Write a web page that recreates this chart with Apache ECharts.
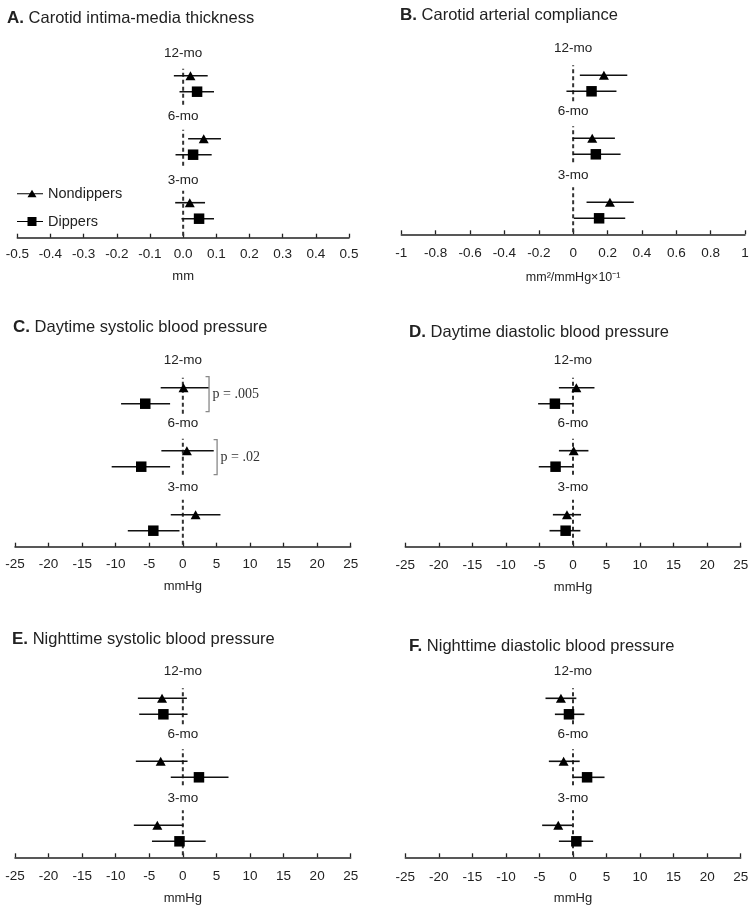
<!DOCTYPE html>
<html><head><meta charset="utf-8">
<script src="https://cdn.jsdelivr.net/npm/echarts@6/dist/echarts.min.js"></script>
<style>html,body{margin:0;padding:0;background:#fff}#c{width:755px;height:911px}</style>
</head><body><div id="c"></div>
<script>
// ---------- DATA ----------
const timepoints = ['3-mo', '6-mo', '12-mo'];
// each row: [mean, lower CI, upper CI] for 3-mo, 6-mo, 12-mo
const imtNondippers      = [[0.020, -0.024, 0.066], [0.062, 0.015, 0.114], [0.022, -0.028, 0.074]];
const imtDippers         = [[0.048, -0.005, 0.093], [0.030, -0.023, 0.086], [0.042, -0.011, 0.093]];
const compNondippers     = [[0.214, 0.078, 0.353], [0.111, -0.004, 0.243], [0.179, 0.039, 0.315]];
const compDippers        = [[0.151, 0.004, 0.303], [0.132, 0.000, 0.276], [0.107, -0.039, 0.252]];
const daySbpNondippers   = [[1.9, -1.8, 5.6], [0.6, -3.2, 4.6], [0.1, -3.3, 3.9]];
const daySbpDippers      = [[-4.4, -8.2, -0.5], [-6.2, -10.6, -1.9], [-5.6, -9.2, -1.9]];
const dayDbpNondippers   = [[-0.9, -3.0, 1.2], [0.1, -2.1, 2.3], [0.5, -2.1, 3.2]];
const dayDbpDippers      = [[-1.1, -3.5, 1.1], [-2.6, -5.1, -0.1], [-2.7, -5.2, 0.0]];
const nightSbpNondippers = [[-3.8, -7.3, 0.1], [-3.3, -7.0, 0.7], [-3.1, -6.7, 0.6]];
const nightSbpDippers    = [[-0.5, -4.6, 3.4], [2.4, -1.8, 6.8], [-2.9, -6.5, 0.7]];
const nightDbpNondippers = [[-2.2, -4.6, -0.1], [-1.4, -3.6, 1.0], [-1.8, -4.1, 0.5]];
const nightDbpDippers    = [[0.5, -2.1, 3.0], [2.1, 0.0, 4.7], [-0.6, -2.7, 1.7]];
const daySbpPValues = [null, 'p = .02', 'p = .005'];
const panelLetters = ['A.', 'B.', 'C.', 'D.', 'E.', 'F.'];
const panelTitles = ['Carotid intima-media thickness', 'Carotid arterial compliance',
  'Daytime systolic blood pressure', 'Daytime diastolic blood pressure',
  'Nighttime systolic blood pressure', 'Nighttime diastolic blood pressure'];
const axisUnits = ['mm', 'mm\u00B2/mmHg\u00D710\u207B\u00B9', 'mmHg', 'mmHg', 'mmHg', 'mmHg'];
const axisMin = [-0.5, -1, -25, -25, -25, -25];
const axisMax = [0.5, 1, 25, 25, 25, 25];
const axisInterval = [0.1, 0.2, 5, 5, 5, 5];
const nondipperSets = [imtNondippers, compNondippers, daySbpNondippers, dayDbpNondippers, nightSbpNondippers, nightDbpNondippers];
const dipperSets = [imtDippers, compDippers, daySbpDippers, dayDbpDippers, nightSbpDippers, nightDbpDippers];

// ---------- LAYOUT ----------
const FONT = '"Liberation Sans", Arial, sans-serif';
const layout = [
  {x0: 17.3, x1: 349, axisY: 237.7, shift: 3, lshift: 2, tl: 7, tt: 10, lm: 10, ng: 32},
  {x0: 401.3, x1: 745, axisY: 234.3, shift: 0, lshift: 0, tl: 400, tt: 7, lm: 12, ng: 37},
  {x0: 15, x1: 350.7, axisY: 546.7, shift: 0, lshift: 0, tl: 13, tt: 319, lm: 11, ng: 33},
  {x0: 405.3, x1: 740.7, axisY: 546.7, shift: 0, lshift: 0, tl: 409, tt: 324, lm: 12, ng: 34},
  {x0: 15, x1: 350.7, axisY: 857.3, shift: 0, lshift: 0, tl: 12, tt: 631, lm: 12, ng: 35},
  {x0: 405.3, x1: 740.7, axisY: 857.3, shift: 0, lshift: 0, tl: 409, tt: 638, lm: 13, ng: 35}
];
const H = 200;
const groupBase = [0, 64, 127];
const sqOff = 16, triOff = 32, labOff = 59;
const dashSegs = [[2, 47], [72, 108], [133, 169]];
const bracketX = [null, 5.1, 3.9];

const grids = [], xAxes = [], yAxes = [], series = [], titles = [];
layout.forEach((L, i) => {
  grids.push({left: L.x0, top: L.axisY - H, width: L.x1 - L.x0, height: H});
  xAxes.push({
    gridIndex: i, type: 'value', min: axisMin[i], max: axisMax[i], interval: axisInterval[i],
    axisLine: {onZero: false, lineStyle: {color: '#222', width: 1.5}},
    axisTick: {inside: true, length: 4, lineStyle: {color: '#222', width: 1.3}},
    axisLabel: {fontSize: 13.5, color: '#222', fontFamily: FONT, margin: L.lm,
      formatter: i === 0 ? (v => v.toFixed(1)) : null},
    splitLine: {show: false},
    name: axisUnits[i], nameLocation: 'middle', nameGap: L.ng,
    nameTextStyle: {fontSize: i === 1 ? 12.5 : 13, color: '#222', fontFamily: FONT}
  });
  yAxes.push({gridIndex: i, type: 'value', min: 0, max: H, show: false});
  titles.push({
    text: '{b|' + panelLetters[i] + '} ' + panelTitles[i],
    left: L.tl, top: L.tt, padding: 0,
    textStyle: {fontSize: 16.5, fontWeight: 'normal', color: '#222', fontFamily: FONT,
      rich: {b: {fontSize: 17, fontWeight: 'bold', color: '#222', fontFamily: FONT}}}
  });
  const s = L.shift;
  // dashed zero line
  series.push({
    type: 'custom', xAxisIndex: i, yAxisIndex: i, silent: true, z: 1,
    data: dashSegs.map(d => [d[0], d[1]]),
    encode: {y: [0, 1]},
    renderItem: (p, api) => {
      const a = api.coord([0, api.value(0)]), b = api.coord([0, api.value(1)]);
      return {type: 'line', shape: {x1: a[0], y1: a[1], x2: b[0], y2: b[1]},
        style: {stroke: '#333', lineWidth: 2, lineDash: [4, 3]}};
    }
  });
  // timepoint labels
  series.push({
    type: 'custom', xAxisIndex: i, yAxisIndex: i, silent: true, z: 3,
    data: timepoints.map((t, g) => [0, groupBase[g] + labOff - L.lshift, g]),
    encode: {x: 0, y: 1},
    renderItem: (p, api) => {
      const c = api.coord([api.value(0), api.value(1)]);
      return {type: 'text', x: c[0], y: c[1],
        style: {text: timepoints[api.value(2)], fill: '#222', font: '13.5px ' + FONT,
          align: 'center', verticalAlign: 'middle'}};
    }
  });
  const groupsDef = [
    {name: 'Nondippers', set: nondipperSets[i], off: triOff, symbol: 'triangle', size: [10, 9]},
    {name: 'Dippers', set: dipperSets[i], off: sqOff, symbol: 'rect', size: 10.5}
  ];
  groupsDef.forEach(G => {
    series.push({
      name: G.name, type: 'custom', xAxisIndex: i, yAxisIndex: i, silent: true, z: 2,
      data: G.set.map((r, g) => [r[1], r[2], groupBase[g] + G.off + s]),
      encode: {x: [0, 1], y: 2},
      renderItem: (p, api) => {
        const y = api.value(2);
        const a = api.coord([api.value(0), y]), b = api.coord([api.value(1), y]);
        return {type: 'line', shape: {x1: a[0], y1: a[1], x2: b[0], y2: b[1]},
          style: {stroke: '#111', lineWidth: 1.6}};
      }
    });
    series.push({
      name: G.name, type: 'scatter', xAxisIndex: i, yAxisIndex: i, silent: true, z: 4,
      symbol: G.symbol, symbolSize: G.size,
      itemStyle: {color: '#000', opacity: 1},
      data: G.set.map((r, g) => [r[0], groupBase[g] + G.off + s])
    });
  });
  if (i === 2) {
    series.push({
      type: 'custom', xAxisIndex: i, yAxisIndex: i, silent: true, z: 3,
      data: daySbpPValues.map((t, g) => t ? [bracketX[g], groupBase[g] + sqOff - 8, groupBase[g] + triOff + 11, g] : null).filter(Boolean),
      encode: {x: 0, y: [1, 2]},
      renderItem: (p, api) => {
        const bot = api.coord([api.value(0), api.value(1)]);
        const top = api.coord([api.value(0), api.value(2)]);
        const x = bot[0];
        return {type: 'group', children: [
          {type: 'polyline', shape: {points: [[x - 3.5, top[1]], [x, top[1]], [x, bot[1]], [x - 3.5, bot[1]]]},
            style: {stroke: '#888', fill: 'none', lineWidth: 1.3}},
          {type: 'text', x: x + 3.5, y: (top[1] + bot[1]) / 2,
            style: {text: daySbpPValues[api.value(3)], fill: '#333', font: '14px "Liberation Serif", "Times New Roman", serif',
              align: 'left', verticalAlign: 'middle'}}
        ]};
      }
    });
  }
});

const chart = echarts.init(document.getElementById('c'), null, {renderer: 'canvas'});
chart.setOption({
  animation: false,
  backgroundColor: '#fff',
  title: titles,
  legend: {
    left: 17, top: 186, orient: 'vertical', itemWidth: 26, itemHeight: 10, itemGap: 13,
    padding: 0, selectedMode: false,
    textStyle: {fontSize: 14.5, color: '#222', fontFamily: FONT},
    data: [
      {name: 'Nondippers', icon: 'path://M0 3.4H26V4.6H0Z M15 0L19.5 7.5L10.5 7.5Z'},
      {name: 'Dippers', icon: 'path://M0 4.4H26V5.6H0Z M10.5 0.5H19.5V9.5H10.5Z'}
    ],
    itemStyle: {color: '#000'}
  },
  grid: grids, xAxis: xAxes, yAxis: yAxes, series: series
});
</script>
</body></html>
